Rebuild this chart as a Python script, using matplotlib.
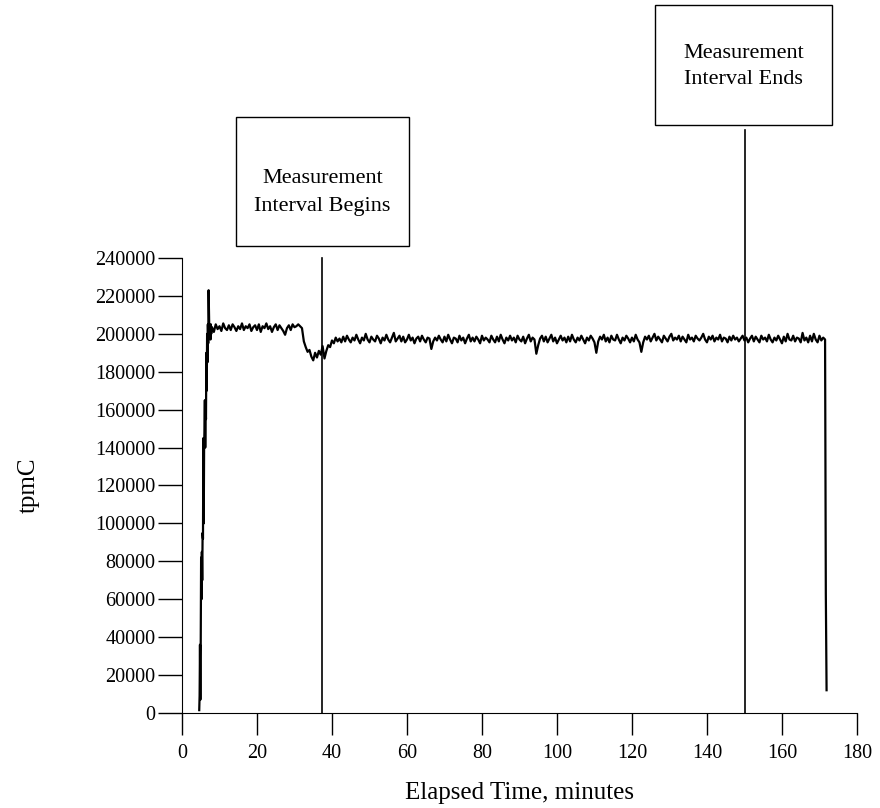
import numpy as np
import matplotlib
matplotlib.use("Agg")
import matplotlib.pyplot as plt
from matplotlib.patches import Rectangle

plt.rcParams["font.family"] = ["Liberation Serif", "DejaVu Serif"]

# ramp-up at the start of the run (minutes, tpmC)
ramp_t = [4.6, 4.7, 4.8, 4.9, 5.0, 5.1, 5.2, 5.3, 5.4, 5.5, 5.6, 5.7, 5.8, 5.9,
          6.0, 6.1, 6.2, 6.3, 6.4, 6.5, 6.6, 6.7, 6.8, 6.9, 7.0, 7.1, 7.2, 7.3,
          7.4, 7.5, 7.6, 7.7, 7.8, 7.9]
ramp_v = [1500, 9000, 36000, 7000, 38000, 82000, 60000, 85000, 70000, 95000,
          92000, 145000, 100000, 140000, 150000, 165000, 140000, 160000, 155000,
          190000, 170000, 200000, 185000, 205000, 195000, 223000, 210000, 200000,
          198000, 203000, 197000, 205000, 200000, 203000]

# steady state, one sample every half minute from 8.0 to 171.5 (thousands)
steady_start = 8.0
steady_step = 0.5
steady_k = [
    203.5, 201, 205, 202.5, 204, 201.5, 205.5, 203, 202, 204.5,
    202, 205, 203.5, 201.5, 204, 202.5, 205.5, 202, 204, 203,
    205, 201.5, 203.5, 204.5, 202, 205, 201, 204, 203, 205.5,
    202.5, 204, 201, 203.5, 205, 202, 204.5, 203, 201.5, 199.5,
    203, 204.5, 202, 205, 203.5, 204, 205, 204, 203, 196,
    193, 190.5, 191.5, 188, 186, 190, 187.5, 191, 189, 193.5,
    187, 191, 194, 193, 196.5, 195, 198, 196, 197.5, 195.5,
    198.5, 196, 199, 197, 195.5, 198, 196.5, 199.5, 197, 195,
    198, 196.5, 200, 197, 195.5, 198.5, 197, 196, 199, 197.5,
    195, 198, 196.5, 199.5, 197, 195.5, 198, 200.5, 196, 197.5,
    199, 196, 198.5, 195.5, 197, 199.5, 196.5, 198, 195, 197.5,
    198.5, 196, 199, 197, 195.5, 198, 197.5, 192, 196, 198,
    196.5, 199, 197, 195.5, 198.5, 196, 199.5, 197, 195, 198,
    197.5, 195.5, 199, 196.5, 198, 195, 197.5, 199.5, 196, 198,
    196, 198.5, 197, 195, 199, 196.5, 198, 197, 195.5, 199,
    197, 195.5, 198.5, 196, 199.5, 197, 195, 198, 196.5, 199,
    196.5, 198, 195.5, 199, 197, 196, 198.5, 195, 197.5, 199.5,
    196, 198, 197, 189.5, 194, 197.5, 199, 196, 198.5, 195.5,
    197.5, 199.5, 196, 198, 195, 197, 199, 196.5, 198, 195.5,
    198.5, 196, 199.5, 197, 195.5, 198, 196.5, 199, 197, 195,
    198, 196.5, 199, 197.5, 195.5, 190, 196, 198.5, 197, 199.5,
    196, 198, 195.5, 199, 197, 196.5, 199.5, 197, 195, 198,
    196.5, 199, 197.5, 195.5, 198, 196, 199.5, 197, 195.5, 190.5,
    195.5, 198.5, 197, 199, 196, 198, 200, 196.5, 198.5, 197,
    195.5, 199, 197.5, 196, 198.5, 200, 196.5, 198, 197, 199,
    196, 198.5, 197, 195.5, 199.5, 197, 198, 196, 199, 197.5,
    196.5, 198, 200, 197, 195.5, 198.5, 197, 199, 196, 198,
    197, 199.5, 196, 198, 197.5, 195.5, 198.5, 196.5, 199, 197,
    198, 196, 197.5, 199, 196.5, 198, 195.5, 197.5, 199, 196,
    198.5, 197, 195.5, 199, 197, 198, 196, 199.5, 197, 195.5,
    198, 196.5, 199, 197, 195, 198.5, 196, 200, 197, 196.5,
    199, 196, 198, 197.5, 195.5, 200.5, 196.5, 198, 195.5, 199,
    196, 200, 197, 195.5, 199, 196.5, 198, 197,
]

# ramp-down at the end of the run
end_t = [171.7, 171.9]
end_v = [63000, 12000]

# measurement interval markers
begin_t = 37.3
end_interval_t = 150.1
begin_top = 240000
end_top = 307500

x_ticks = [0, 20, 40, 60, 80, 100, 120, 140, 160, 180]
y_ticks = [0, 20000, 40000, 60000, 80000, 100000, 120000, 140000, 160000,
           180000, 200000, 220000, 240000]

steady_t = steady_start + steady_step * np.arange(len(steady_k))
t = np.concatenate([ramp_t, steady_t, end_t])
v = np.concatenate([ramp_v, np.array(steady_k) * 1000.0, end_v])

fig = plt.figure(figsize=(8.8, 8.08), dpi=100)
ax = fig.add_axes([0.2068, 0.1176, 0.767, 0.5631])

ax.plot(t, v, color="black", linewidth=1.6)
ax.plot([begin_t, begin_t], [0, begin_top], color="black", linewidth=1.2, clip_on=False)
ax.plot([end_interval_t, end_interval_t], [0, end_top], color="black", linewidth=1.2, clip_on=False)

# annotation boxes
ax.add_patch(Rectangle((14.4, 246300), 46.1, 68100, fill=False, edgecolor="black",
                       linewidth=1.0, clip_on=False))
ax.text(37.5, 274500, "Measurement\nInterval Begins", ha="center", va="center",
        fontsize=16, linespacing=1.65)
ax.add_patch(Rectangle((126.1, 310200), 47.2, 63300, fill=False, edgecolor="black",
                       linewidth=1.0, clip_on=False))
ax.text(149.7, 341000, "Measurement\nInterval Ends", ha="center", va="center",
        fontsize=16, linespacing=1.55)

ax.set_xlim(0, 180)
ax.set_ylim(0, 240000)
ax.set_xticks(x_ticks)
ax.set_yticks(y_ticks)
ax.set_xticklabels([str(x) for x in x_ticks], fontsize=14.5)
ax.set_yticklabels([str(y) for y in y_ticks], fontsize=14.5)
ax.tick_params(axis="y", direction="out", length=17, width=1.0, pad=2)
ax.tick_params(axis="x", direction="out", length=16, width=1.0, pad=6)
ax.spines["top"].set_visible(False)
ax.spines["right"].set_visible(False)

ax.set_xlabel("Elapsed Time, minutes", fontsize=18)
ax.xaxis.label.set_va("center")
ax.xaxis.set_label_coords(0.5, -0.176)
ax.set_ylabel("tpmC", fontsize=18, labelpad=40)

fig.savefig("out.png", dpi=100)
